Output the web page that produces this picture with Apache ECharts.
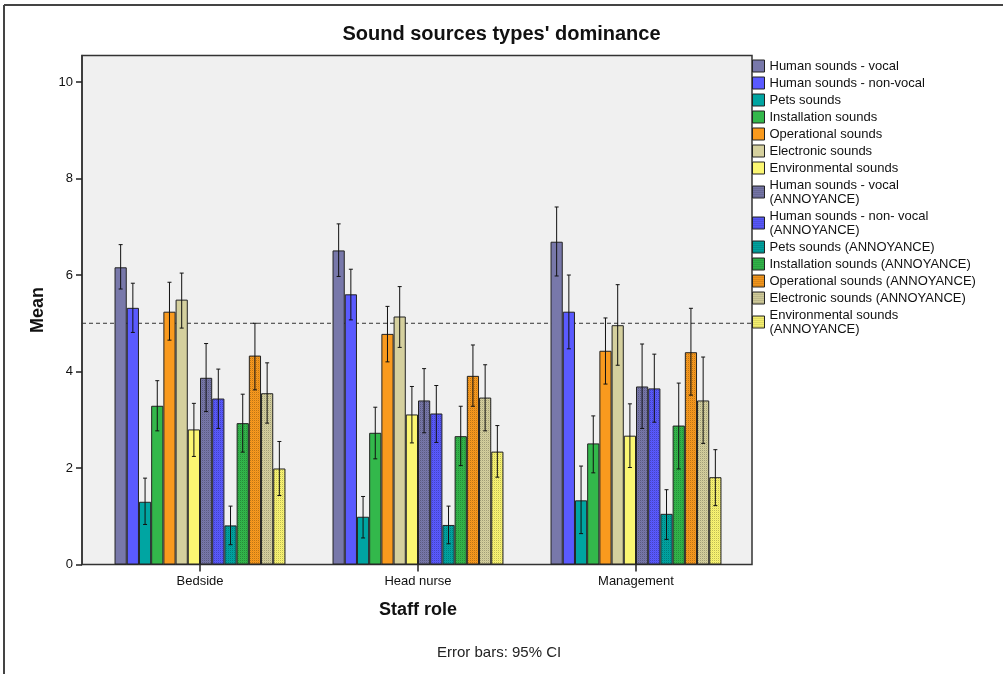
<!DOCTYPE html>
<html>
<head>
<meta charset="utf-8">
<script src="https://cdn.jsdelivr.net/npm/echarts@6/dist/echarts.min.js"></script>
<style>
html,body{margin:0;padding:0;background:#fff;}
#chart{width:1003px;height:674px;}
</style>
</head>
<body>
<div id="chart"></div>
<script>
const CATEGORIES = ['Bedside', 'Head nurse', 'Management'];
const SERIES_NAMES = [
  'Human sounds - vocal', 'Human sounds - non-vocal', 'Pets sounds', 'Installation sounds',
  'Operational sounds', 'Electronic sounds', 'Environmental sounds',
  'Human sounds - vocal (ANNOYANCE)', 'Human sounds - non- vocal (ANNOYANCE)', 'Pets sounds (ANNOYANCE)',
  'Installation sounds (ANNOYANCE)', 'Operational sounds (ANNOYANCE)', 'Electronic sounds (ANNOYANCE)',
  'Environmental sounds (ANNOYANCE)'
];
const LEGEND_LABELS = [
  'Human sounds - vocal', 'Human sounds - non-vocal', 'Pets sounds', 'Installation sounds',
  'Operational sounds', 'Electronic sounds', 'Environmental sounds',
  'Human sounds - vocal\n(ANNOYANCE)', 'Human sounds - non- vocal\n(ANNOYANCE)', 'Pets sounds (ANNOYANCE)',
  'Installation sounds (ANNOYANCE)', 'Operational sounds (ANNOYANCE)', 'Electronic sounds (ANNOYANCE)',
  'Environmental sounds\n(ANNOYANCE)'
];
// means and 95% CI bounds per category (14 series each)
const BEDSIDE_MEAN    = [6.16, 5.32, 1.30, 3.29, 5.24, 5.49, 2.80, 3.87, 3.44, 0.81, 2.93, 4.33, 3.55, 1.99];
const BEDSIDE_LOW     = [5.71, 4.81, 0.83, 2.77, 4.65, 4.90, 2.24, 3.17, 2.82, 0.41, 2.33, 3.62, 2.93, 1.43];
const BEDSIDE_HIGH    = [6.63, 5.83, 1.79, 3.81, 5.85, 6.04, 3.34, 4.58, 4.05, 1.21, 3.53, 5.00, 4.18, 2.55];
const HEADNURSE_MEAN  = [6.51, 5.60, 0.99, 2.73, 4.78, 5.14, 3.11, 3.40, 3.13, 0.82, 2.66, 3.91, 3.46, 2.34];
const HEADNURSE_LOW   = [5.97, 5.07, 0.55, 2.19, 4.20, 4.50, 2.52, 2.73, 2.53, 0.43, 2.05, 3.28, 2.77, 1.81];
const HEADNURSE_HIGH  = [7.06, 6.12, 1.41, 3.26, 5.35, 5.76, 3.69, 4.06, 3.71, 1.21, 3.28, 4.55, 4.14, 2.88];
const MANAGEMENT_MEAN = [6.69, 5.24, 1.33, 2.51, 4.43, 4.96, 2.67, 3.69, 3.65, 1.05, 2.88, 4.40, 3.40, 1.81];
const MANAGEMENT_LOW  = [5.98, 4.47, 0.64, 1.90, 3.74, 4.13, 2.01, 2.82, 2.95, 0.52, 1.98, 3.51, 2.51, 1.22];
const MANAGEMENT_HIGH = [7.41, 6.00, 2.04, 3.08, 5.11, 5.80, 3.33, 4.57, 4.36, 1.55, 3.76, 5.31, 4.30, 2.38];
const Y_TICKS = [0, 2, 4, 6, 8, 10];
const REFERENCE_VALUE = 5;

const MEANS = [BEDSIDE_MEAN, HEADNURSE_MEAN, MANAGEMENT_MEAN];
const LOWS = [BEDSIDE_LOW, HEADNURSE_LOW, MANAGEMENT_LOW];
const HIGHS = [BEDSIDE_HIGH, HEADNURSE_HIGH, MANAGEMENT_HIGH];

const BASE_COLORS = ['#7878aa', '#5a5aff', '#00a5a2', '#33b84b', '#f99a1e', '#d5d09e', '#fbf672'];
const FONT = 'Liberation Sans, Arial, sans-serif';
const N = SERIES_NAMES.length;
const GAP_PCT = 0.216;
const Y_MAX = 10.55;

function makePattern(color) {
  const c = document.createElement('canvas');
  c.width = 4; c.height = 4;
  const ctx = c.getContext('2d');
  ctx.fillStyle = color;
  ctx.fillRect(0, 0, 4, 4);
  ctx.fillStyle = 'rgba(0,0,0,0.24)';
  ctx.fillRect(0, 0, 1, 1); ctx.fillRect(2, 2, 1, 1); ctx.fillRect(2, 0, 1, 1); ctx.fillRect(0, 2, 1, 1);
  ctx.fillStyle = 'rgba(0,0,0,0.06)';
  ctx.fillRect(1, 1, 1, 1); ctx.fillRect(3, 3, 1, 1); ctx.fillRect(3, 1, 1, 1); ctx.fillRect(1, 3, 1, 1);
  return { image: c, repeat: 'repeat' };
}

function seriesColor(i) {
  const base = BASE_COLORS[i % 7];
  return i < 7 ? base : makePattern(base);
}

const chart = echarts.init(document.getElementById('chart'), null, { renderer: 'canvas' });

const barSeries = SERIES_NAMES.map((name, i) => ({
  name: name,
  type: 'bar',
  xAxisIndex: 0,
  yAxisIndex: 0,
  barGap: '0%',
  barCategoryGap: (GAP_PCT * 100) + '%',
  data: CATEGORIES.map((c, k) => MEANS[k][i]),
  itemStyle: { color: seriesColor(i), borderColor: '#222', borderWidth: 1 },
  emphasis: { disabled: true },
  z: 3
}));

const errData = [];
CATEGORIES.forEach((c, k) => {
  for (let i = 0; i < N; i++) errData.push([k, i, LOWS[k][i], HIGHS[k][i]]);
});

const errSeries = {
  type: 'custom',
  xAxisIndex: 0,
  yAxisIndex: 0,
  data: errData,
  z: 5,
  silent: true,
  encode: { x: 0, y: [2, 3] },
  renderItem: function (params, api) {
    const cat = api.value(0), idx = api.value(1);
    const band = api.size([1, 0])[0];
    const total = band * (1 - GAP_PCT);
    const bw = total / N;
    const lowP = api.coord([cat, api.value(2)]);
    const highP = api.coord([cat, api.value(3)]);
    const x = lowP[0] - total / 2 + bw * (idx + 0.5);
    const cap = 2;
    const style = { stroke: '#111', lineWidth: 1 };
    return {
      type: 'group',
      children: [
        { type: 'line', shape: { x1: x, y1: highP[1], x2: x, y2: lowP[1] }, style: style },
        { type: 'line', shape: { x1: x - cap, y1: highP[1], x2: x + cap, y2: highP[1] }, style: style },
        { type: 'line', shape: { x1: x - cap, y1: lowP[1], x2: x + cap, y2: lowP[1] }, style: style }
      ]
    };
  }
};

const refSeries = {
  type: 'line',
  xAxisIndex: 1,
  yAxisIndex: 1,
  data: [[0, REFERENCE_VALUE], [1, REFERENCE_VALUE]],
  symbol: 'none',
  silent: true,
  lineStyle: { color: '#333', width: 1, type: [4, 3] },
  z: 2
};

const option = {
  animation: false,
  backgroundColor: '#ffffff',
  title: {
    text: "Sound sources types' dominance",
    left: 'center',
    top: 24,
    padding: 0,
    textStyle: { fontFamily: FONT, fontSize: 20, fontWeight: 'bold', color: '#111' }
  },
  legend: {
    orient: 'vertical',
    left: 752,
    top: 59,
    icon: 'rect',
    itemWidth: 12,
    itemHeight: 12,
    itemGap: 3,
    padding: 0,
    align: 'left',
    data: SERIES_NAMES,
    selectedMode: false,
    formatter: function (name) { return LEGEND_LABELS[SERIES_NAMES.indexOf(name)]; },
    itemStyle: { borderColor: '#222', borderWidth: 1 },
    textStyle: { fontFamily: FONT, fontSize: 13, lineHeight: 14, color: '#111' }
  },
  grid: [
    { left: 91, right: 258, top: 55.5, bottom: 109.5, show: false },
    { left: 82, right: 251, top: 55.5, bottom: 109.5, show: true, backgroundColor: '#f0f0f0', borderColor: '#333', borderWidth: 1.5, z: 0 }
  ],
  xAxis: [
    {
      type: 'category',
      gridIndex: 0,
      data: CATEGORIES,
      axisLine: { show: false },
      axisTick: { show: true, alignWithLabel: true, length: 7, lineStyle: { color: '#222', width: 1.5 } },
      axisLabel: { fontFamily: FONT, fontSize: 13, color: '#111', margin: 10 },
      name: 'Staff role',
      nameLocation: 'middle',
      nameGap: 37,
      nameTextStyle: { fontFamily: FONT, fontSize: 18, fontWeight: 'bold', color: '#111' }
    },
    {
      type: 'value',
      gridIndex: 1,
      min: 0, max: 1,
      show: false
    }
  ],
  yAxis: [
    { type: 'value', gridIndex: 0, min: 0, max: Y_MAX, show: false },
    {
      type: 'value',
      gridIndex: 1,
      min: 0,
      max: Y_MAX,
      interval: 2,
      splitLine: { show: false },
      axisLine: { show: true, lineStyle: { color: '#333', width: 1.5 } },
      axisTick: { show: true, length: 6, customValues: Y_TICKS, lineStyle: { color: '#222', width: 1.5 } },
      axisLabel: { fontFamily: FONT, fontSize: 13, color: '#111', margin: 9, customValues: Y_TICKS },
      name: 'Mean',
      nameLocation: 'middle',
      nameGap: 35,
      nameRotate: 90,
      nameTextStyle: { fontFamily: FONT, fontSize: 18, fontWeight: 'bold', color: '#111' }
    }
  ],
  graphic: [
    { type: 'line', shape: { x1: 4, y1: 5, x2: 1003, y2: 5 }, style: { stroke: '#444', lineWidth: 2 } },
    { type: 'line', shape: { x1: 4, y1: 5, x2: 4, y2: 674 }, style: { stroke: '#444', lineWidth: 2 } },
    {
      type: 'text', left: 437, top: 645,
      style: { text: 'Error bars: 95% CI', fontFamily: FONT, fontSize: 15, fill: '#222' }
    }
  ],
  series: [refSeries].concat(barSeries, [errSeries])
};

chart.setOption(option);
</script>
</body>
</html>
